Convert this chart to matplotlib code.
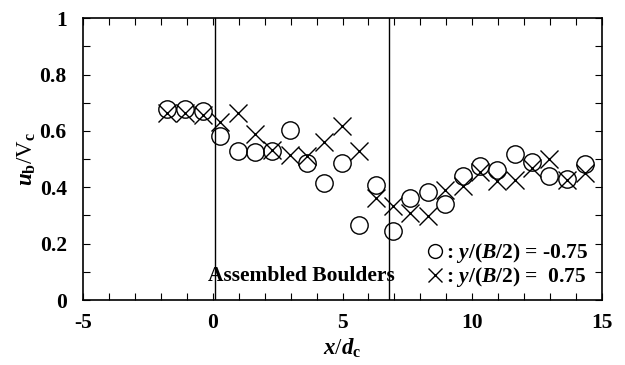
import numpy as np
import matplotlib
matplotlib.use('Agg')
import matplotlib.pyplot as plt

matplotlib.rcParams['font.family'] = 'Liberation Serif'
matplotlib.rcParams['font.weight'] = 'bold'
matplotlib.rcParams['axes.unicode_minus'] = False
matplotlib.rcParams['mathtext.fontset'] = 'custom'
matplotlib.rcParams['mathtext.rm'] = 'Liberation Serif:bold'
matplotlib.rcParams['mathtext.it'] = 'Liberation Serif:italic:bold'
matplotlib.rcParams['mathtext.bf'] = 'Liberation Serif:bold'

## x positions (x/dc), same for both lines
x_pos = [-1.76, -1.08, -0.39, 0.27, 0.96, 1.62, 2.29, 2.96, 3.62, 4.30, 4.97, 5.64,
         6.29, 6.96, 7.62, 8.30, 8.95, 9.64, 10.30, 10.98, 11.64, 12.31, 12.98, 13.65, 14.34]

## y/(B/2) = -0.75
ub_left = [0.678, 0.678, 0.672, 0.582, 0.530, 0.527, 0.530, 0.603, 0.485, 0.416, 0.487, 0.266,
           0.408, 0.244, 0.361, 0.384, 0.340, 0.439, 0.477, 0.461, 0.518, 0.489, 0.440, 0.431, 0.482]

## y/(B/2) = 0.75
ub_right = [0.665, 0.663, 0.655, 0.633, 0.664, 0.589, 0.531, 0.515, 0.512, 0.562, 0.616, 0.530,
            0.362, 0.333, 0.310, 0.298, 0.391, 0.405, 0.455, 0.422, 0.426, 0.470, 0.500, 0.426, 0.450]

boulder_lines = [0.1, 6.8]

fig = plt.figure(figsize=(6.25, 3.65), dpi=100)
ax = fig.add_axes([0.1333, 0.178, 0.8294, 0.772])

ax.plot(x_pos, ub_left, ls='none', marker='o', ms=12.5, mfc='none', mec='black', mew=1.0,
        label=r': $y$/($B$/2) = -0.75')
ax.plot(x_pos, ub_right, ls='none', marker='x', ms=13, mec='black', mew=1.0,
        label=r': $y$/($B$/2) =  0.75')

for xv in boulder_lines:
    ax.axvline(xv, color='black', lw=1.0)

ax.text(3.4, 0.085, 'Assembled Boulders', ha='center', va='center', fontsize=15.5, fontweight='bold')

ax.set_xlim(-5, 15)
ax.set_ylim(0, 1)
ax.set_xticks([-5, 0, 5, 10, 15])
ax.set_xticks(np.arange(-5, 16, 1), minor=True)
ax.set_yticks([0, 0.2, 0.4, 0.6, 0.8, 1])
ax.set_yticklabels(['0', '0.2', '0.4', '0.6', '0.8', '1'])
ax.set_yticks(np.arange(0, 1.01, 0.1), minor=True)
ax.tick_params(which='both', direction='in', top=True, right=True, width=0.8)
ax.tick_params(which='major', length=5, labelsize=15.5)
ax.tick_params(axis='y', which='major', pad=12)
ax.tick_params(axis='x', which='major', pad=9)
ax.tick_params(which='minor', length=5)
for s in ax.spines.values():
    s.set_linewidth(1.2)

ax.set_xlabel(r'$x$/$d_{\rm c}$', fontsize=16.5, labelpad=3)
ax.set_ylabel(r'$u_{\rm b}$/V$_{\rm c}$', fontsize=16.5, labelpad=1)

leg = ax.legend(loc='lower right', bbox_to_anchor=(1.012, -0.03), frameon=False, fontsize=15.5,
                handlelength=0.8, handletextpad=0.1, labelspacing=0.0, markerscale=0.8)

fig.savefig('out.png', dpi=100)
